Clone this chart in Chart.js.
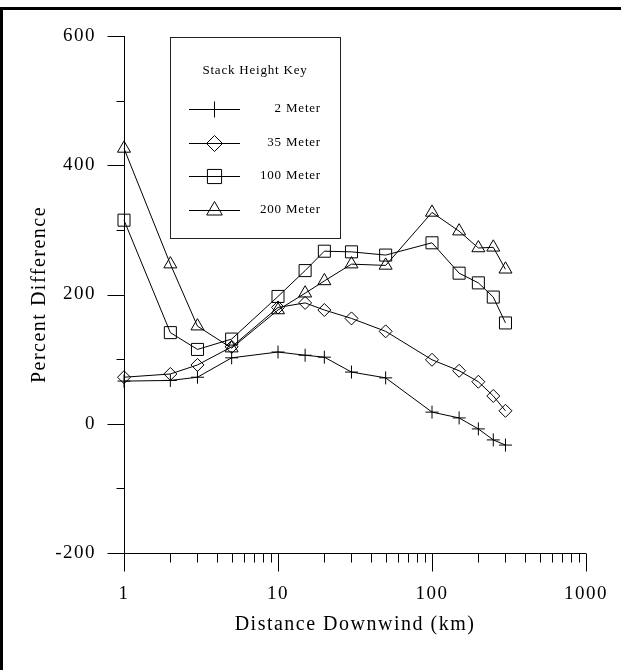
<!DOCTYPE html>
<html>
<head>
<meta charset="utf-8">
<script src="https://cdn.jsdelivr.net/npm/chart.js@4/dist/chart.umd.min.js"></script>
<style>
  html, body { margin: 0; padding: 0; background: #fff; }
  canvas { display: block; }
</style>
</head>
<body>
<canvas id="chart" width="621" height="670"></canvas>
<script>
// distances downwind (km)
const distances = [1, 2, 3, 5, 10, 15, 20, 30, 50, 100, 150, 200, 250, 300];

// percent difference for each stack height
const meter2   = [66, 67, 72, 102, 111, 106, 103, 80, 71, 18, 9, -8, -25, -33];
const meter35  = [72, 77, 91, 119, 180, 187, 176, 163, 143, 99, 82, 65, 43, 20];
const meter100 = [315, 141, 115, 131, 197, 237, 267, 266, 261, 280, 233, 218, 196, 156];
const meter200 = [426, 247, 151, 117, 176, 202, 221, 247, 245, 327, 298, 272, 273, 239];

const seriesLabels = ['2 Meter', '35 Meter', '100 Meter', '200 Meter'];
const pointStyles = ['cross', 'rectRot', 'rect', 'triangle'];
const pointSizes = [6.5, 6.5, 8.5, 7.5];

const xTickLabels = [1, 10, 100, 1000];
const yTickLabels = [-200, 0, 200, 400, 600];

const FONT = '"Liberation Serif", "Times New Roman", serif';
Chart.defaults.font.family = FONT;
Chart.defaults.color = '#000';

function toPoints(values) {
    return values.map((v, i) => ({ x: distances[i], y: v }));
}

const datasets = [meter2, meter35, meter100, meter200].map((values, i) => ({
    label: seriesLabels[i],
    data: toPoints(values),
    borderColor: '#000',
    borderWidth: 1,
    pointStyle: pointStyles[i],
    pointRadius: pointSizes[i],
    pointHoverRadius: pointSizes[i],
    pointBorderColor: '#000',
    pointBackgroundColor: 'rgba(0,0,0,0)',
    pointBorderWidth: 1,
    tension: 0,
    fill: false,
    clip: false
}));

// axis lines, tick marks, the frame and the key box
const axesAndKey = {
    id: 'axesAndKey',
    beforeDraw(chart) {
        chart.ctx.letterSpacing = '1.5px';
    },
    beforeDatasetsDraw(chart) {
        const ctx = chart.ctx;
        const xs = chart.scales.x, ys = chart.scales.y, a = chart.chartArea;
        const L = Math.round(a.left) + 0.5;
        const B = Math.round(a.bottom) + 0.5;
        ctx.save();
        ctx.strokeStyle = '#000';
        ctx.lineWidth = 1;
        ctx.beginPath();
        ctx.moveTo(L, a.top);
        ctx.lineTo(L, B);
        ctx.lineTo(a.right, B);
        xs.ticks.forEach(t => {
            const px = Math.round(xs.getPixelForValue(t.value)) + 0.5;
            const len = xTickLabels.includes(t.value) ? 18 : 9;
            ctx.moveTo(px, B);
            ctx.lineTo(px, B + len);
        });
        ys.ticks.forEach(t => {
            const py = Math.round(ys.getPixelForValue(t.value)) + 0.5;
            const len = yTickLabels.includes(t.value) ? 17 : 8;
            ctx.moveTo(L - len, py);
            ctx.lineTo(L, py);
        });
        ctx.stroke();

        // outer frame
        ctx.fillStyle = '#000';
        ctx.fillRect(0, 7, chart.width, 3);
        ctx.fillRect(0, 7, 3, chart.height - 7);
        ctx.restore();
    },
    afterDraw(chart) {
        const ctx = chart.ctx;
        ctx.save();
        ctx.letterSpacing = '0.8px';
        ctx.strokeStyle = '#222';
        ctx.lineWidth = 1;
        ctx.strokeRect(170.5, 37.5, 170, 201);

        ctx.fillStyle = '#000';
        ctx.font = '13px ' + FONT;
        ctx.textBaseline = 'middle';
        ctx.textAlign = 'center';
        ctx.fillText('Stack Height Key', 255, 71);

        chart.data.datasets.forEach((ds, i) => {
            const y = 109 + i * 33.5;
            ctx.strokeStyle = '#000';
            ctx.beginPath();
            ctx.moveTo(189, Math.round(y) + 0.5);
            ctx.lineTo(240, Math.round(y) + 0.5);
            ctx.stroke();
            ctx.fillStyle = 'rgba(0,0,0,0)';
            Chart.helpers.drawPoint(ctx, {
                pointStyle: ds.pointStyle,
                radius: ds.pointRadius + 1.5,
                borderWidth: 1,
                rotation: 0
            }, 214.5, Math.round(y) + 0.5);
            ctx.fillStyle = '#000';
            ctx.textAlign = 'right';
            ctx.fillText(ds.label, 321, y);
        });
        ctx.restore();
    }
};

new Chart(document.getElementById('chart'), {
    type: 'line',
    data: { datasets: datasets },
    options: {
        responsive: false,
        animation: false,
        devicePixelRatio: 1,
        layout: { padding: { top: 36, right: 35, left: 0, bottom: 0 } },
        plugins: {
            legend: { display: false },
            tooltip: { enabled: false }
        },
        scales: {
            x: {
                type: 'logarithmic',
                min: 1,
                max: 1000,
                afterBuildTicks: (scale) => {
                    const ticks = [];
                    for (let d = 1; d < 1000; d *= 10) {
                        for (let m = 1; m < 10; m++) ticks.push({ value: m * d });
                    }
                    ticks.push({ value: 1000 });
                    scale.ticks = ticks;
                },
                afterFit: (scale) => {
                    scale.height = 117;
                    scale.paddingLeft = 0;
                    scale.paddingRight = 0;
                },
                grid: { display: false, drawTicks: false, tickLength: 0 },
                border: { display: false },
                ticks: {
                    autoSkip: false,
                    maxRotation: 0,
                    padding: 30,
                    font: { size: 19 },
                    callback: (v) => xTickLabels.includes(v) ? String(v) : ''
                },
                title: {
                    display: true,
                    text: 'Distance Downwind (km)',
                    font: { size: 20 },
                    padding: { top: 0, bottom: 33 }
                }
            },
            y: {
                type: 'linear',
                min: -200,
                max: 600,
                afterFit: (scale) => {
                    scale.width = 124;
                    scale.paddingTop = 0;
                    scale.paddingBottom = 0;
                },
                grid: { display: false, drawTicks: false, tickLength: 0 },
                border: { display: false },
                ticks: {
                    stepSize: 100,
                    autoSkip: false,
                    padding: 28,
                    font: { size: 19 },
                    callback: (v) => yTickLabels.includes(v) ? String(v) : ''
                },
                title: {
                    display: true,
                    text: 'Percent Difference',
                    font: { size: 20 },
                    padding: { top: 28, bottom: 0 }
                }
            }
        }
    },
    plugins: [axesAndKey]
});
</script>
</body>
</html>
